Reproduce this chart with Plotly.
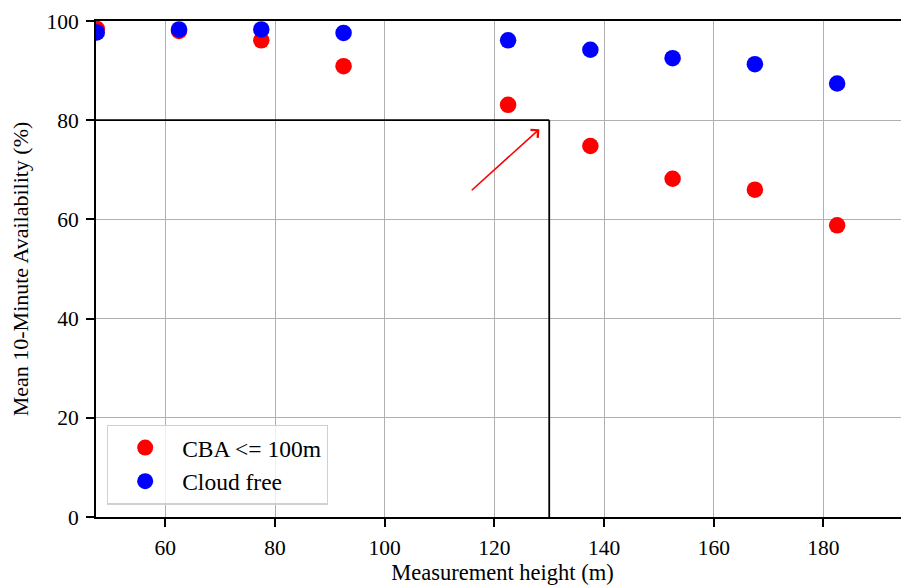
import plotly.graph_objects as go

# Data
heights = [47.5, 62.5, 77.5, 92.5, 122.5, 137.5, 152.5, 167.5, 182.5]
cba_le_100m = [98.4, 98.0, 96.1, 90.9, 83.1, 74.8, 68.2, 66.0, 58.8]
cloud_free = [97.7, 98.3, 98.3, 97.6, 96.1, 94.2, 92.5, 91.3, 87.4]
series_names = ["CBA <= 100m", "Cloud free"]
x_ticks = [60, 80, 100, 120, 140, 160, 180]
y_ticks = [0, 20, 40, 60, 80, 100]
height_limit = 130
availability_limit = 80
arrow_start = (115.6, 65.6)
arrow_end = (128.2, 78.2)

FONT = "Liberation Serif"
x_range = [47.36, 195.6]
y_range = [0, 100]

fig = go.Figure()
fig.add_trace(go.Scatter(
    x=heights, y=cba_le_100m, mode="markers", name=series_names[0],
    marker=dict(color="#ff0000", size=16.5, line=dict(width=0)),
))
fig.add_trace(go.Scatter(
    x=heights, y=cloud_free, mode="markers", name=series_names[1],
    marker=dict(color="#0000ff", size=16.5, line=dict(width=0)),
))

# threshold lines
fig.add_shape(type="line", xref="x", yref="y", x0=x_range[0], x1=height_limit,
              y0=availability_limit, y1=availability_limit,
              line=dict(color="black", width=1.8), layer="above")
fig.add_shape(type="line", xref="x", yref="y", x0=height_limit, x1=height_limit,
              y0=0, y1=availability_limit,
              line=dict(color="black", width=1.8), layer="above")

# arrow
fig.add_annotation(
    x=arrow_end[0], y=arrow_end[1], ax=arrow_start[0], ay=arrow_start[1],
    xref="x", yref="y", axref="x", ayref="y", text="", showarrow=True,
    arrowhead=4, arrowsize=1.3, arrowwidth=1.6, arrowcolor="#ff0000",
)

fig.update_layout(
    width=909, height=586,
    margin=dict(l=88, r=8, t=13, b=77, autoexpand=False),
    plot_bgcolor="white", paper_bgcolor="white",
    font=dict(family=FONT, size=22, color="black"),
    showlegend=True,
    legend=dict(
        x=0.0135, y=0.025, xanchor="left", yanchor="bottom",
        bgcolor="rgba(255,255,255,0.8)", bordercolor="#d0d0d0", borderwidth=1.2,
        font=dict(family=FONT, size=23.5, color="black"),
        itemwidth=64,
    ),
    xaxis=dict(
        range=x_range, tickmode="array", tickvals=x_ticks, automargin=False,
        showgrid=True, gridcolor="#b0b0b0", gridwidth=1.4,
        showline=True, linecolor="black", linewidth=1.8, mirror=True,
        ticks="outside", ticklen=8, tickwidth=1.6, tickcolor="black",
        tickfont=dict(family=FONT, size=21.5), ticklabelstandoff=2,
        title=dict(text="Measurement height (m)", font=dict(family=FONT, size=22.5), standoff=6),
        zeroline=False,
    ),
    yaxis=dict(
        range=y_range, tickmode="array", tickvals=y_ticks, automargin=False,
        showgrid=True, gridcolor="#b0b0b0", gridwidth=1.4,
        showline=True, linecolor="black", linewidth=1.8, mirror=False,
        ticks="outside", ticklen=8, tickwidth=1.6, tickcolor="black",
        tickfont=dict(family=FONT, size=21.5), ticklabelstandoff=3,
        title=dict(text="Mean 10-Minute Availability (%)", font=dict(family=FONT, size=22), standoff=15),
        zeroline=False,
    ),
)

fig.write_html("out.html")
